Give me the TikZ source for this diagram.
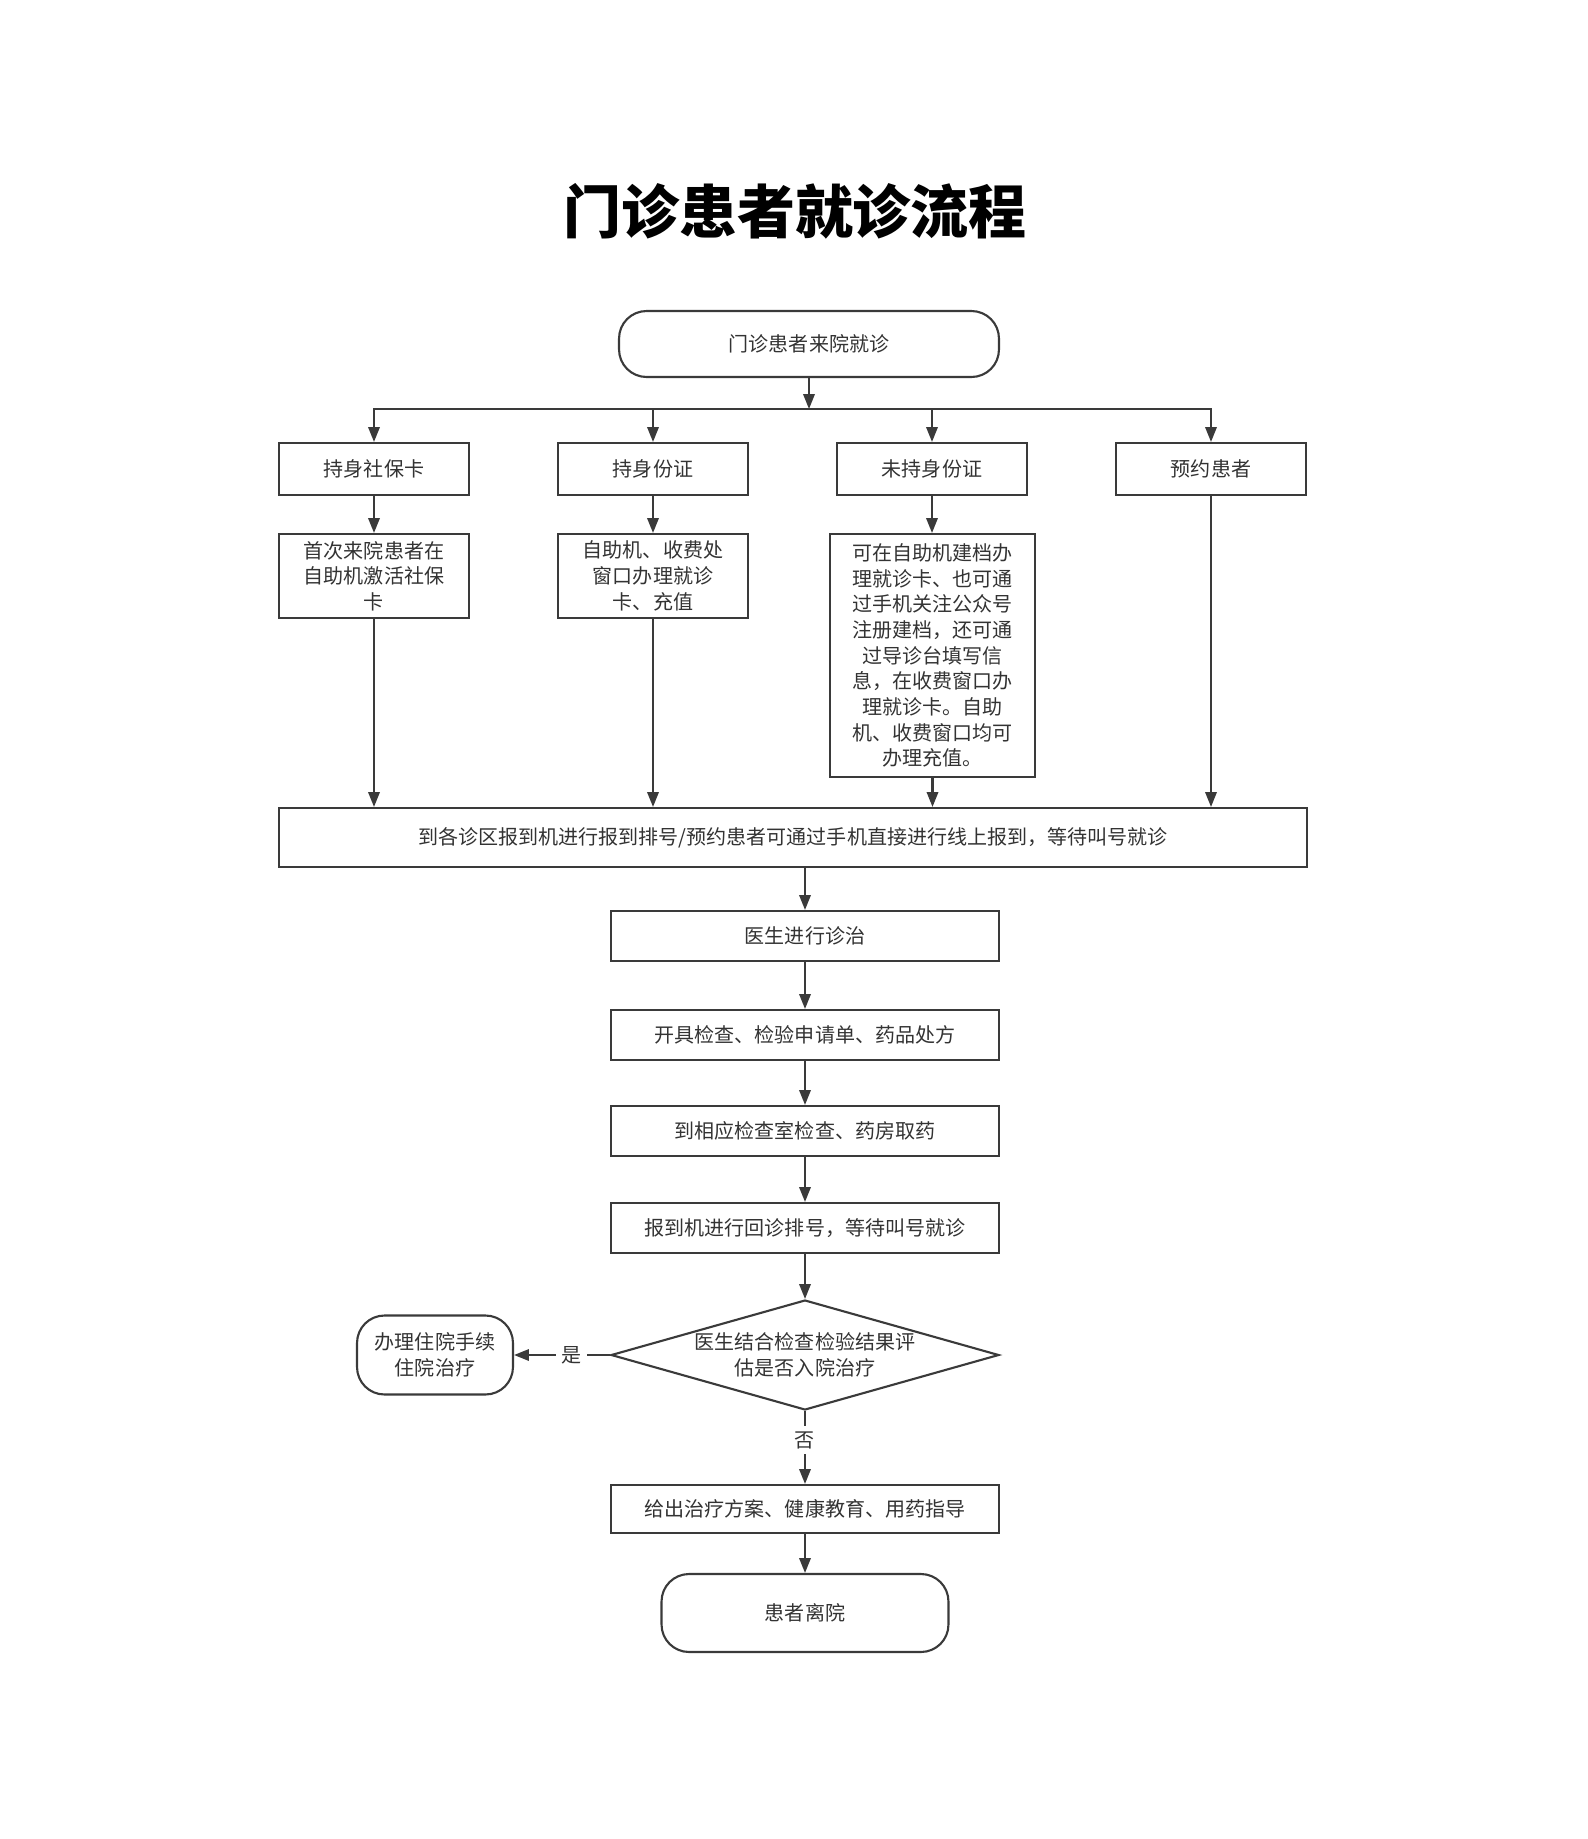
\documentclass[tikz,border=0pt]{standalone}
\usepackage{fontspec}
\setmainfont{Noto Sans CJK SC}
\usepackage{tikz}
\usetikzlibrary{arrows.meta,shapes.geometric}
\definecolor{flowline}{RGB}{58,58,58}
\definecolor{flowtext}{RGB}{51,51,51}

\begin{document}
\begin{tikzpicture}[x=0.02cm,y=-0.02cm,
  every node/.style={font=\fontsize{11.4}{14.6}\selectfont,text=flowtext},
  box/.style={draw=flowline,line width=1.2pt,fill=white,align=center,inner sep=0pt},
  term/.style={box,rounded corners=0.55cm},
  arr/.style={draw=flowline,line width=1.2pt,-{Triangle[length=8.5pt,width=6.5pt]}},
  lbl/.style={fill=white,inner sep=3pt}]
\useasboundingbox (0,0) rectangle (1587,1839);
% Title
\node (title) at (795,211) {\fontsize{33}{36}\selectfont\bfseries\color{black}门诊患者就诊流程};
% Start
\node[term,minimum width=7.6cm,minimum height=1.32cm] (start) at (809,344) {门诊患者来院就诊};
% Four kinds of patients
\node[box,minimum width=3.8cm,minimum height=1.04cm] (b1) at (374,469) {持身社保卡};
\node[box,minimum width=3.8cm,minimum height=1.04cm] (b2) at (653,469) {持身份证};
\node[box,minimum width=3.8cm,minimum height=1.04cm] (b3) at (932,469) {未持身份证};
\node[box,minimum width=3.8cm,minimum height=1.04cm] (b4) at (1211,469) {预约患者};
% Card handling
\node[box,minimum width=3.8cm,minimum height=1.68cm] (c1) at (374,576) {首次来院患者在\\自助机激活社保\\卡};
\node[box,minimum width=3.8cm,minimum height=1.68cm] (c2) at (653,576) {自助机、收费处\\窗口办理就诊\\卡、充值};
\node[box,minimum width=4.1cm,minimum height=4.86cm] (c3) at (932.5,655.5) {可在自助机建档办\\理就诊卡、也可通\\过手机关注公众号\\注册建档，还可通\\过导诊台填写信\\息，在收费窗口办\\理就诊卡。自助\\机、收费窗口均可\\办理充值。};
% Check in
\node[box,minimum width=20.56cm,minimum height=1.18cm] (wide) at (793,837.5) {到各诊区报到机进行报到排号/预约患者可通过手机直接进行线上报到，等待叫号就诊};
% Main chain
\node[box,minimum width=7.76cm,minimum height=1.0cm] (doc) at (805,936) {医生进行诊治};
\node[box,minimum width=7.76cm,minimum height=1.0cm] (order) at (805,1035) {开具检查、检验申请单、药品处方};
\node[box,minimum width=7.76cm,minimum height=1.0cm] (exam) at (805,1131) {到相应检查室检查、药房取药};
\node[box,minimum width=7.76cm,minimum height=1.0cm] (revisit) at (805,1228) {报到机进行回诊排号，等待叫号就诊};
\node[box,shape=diamond,aspect=3.5,text width=4.6cm,minimum width=7.76cm,minimum height=2.2cm] (decide) at (805,1355) {医生结合检查检验结果评\\估是否入院治疗};
\node[term,minimum width=3.12cm,minimum height=1.58cm] (hosp) at (435,1355) {办理住院手续\\住院治疗};
\node[box,minimum width=7.76cm,minimum height=0.96cm] (final) at (805,1509) {给出治疗方案、健康教育、用药指导};
\node[term,minimum width=5.74cm,minimum height=1.56cm] (leave) at (805,1613) {患者离院};
% Connectors
\coordinate (split) at (809,409);
\draw[arr] (start) -- (split);
\draw[draw=flowline,line width=1.2pt] (b1.north |- split) -- (b4.north |- split);
\foreach \b in {b1,b2,b3,b4}
  \draw[arr] (split) -| (\b.north);
\draw[arr] (b1) -- (c1);
\draw[arr] (b2) -- (c2);
\draw[arr] (b3.south) -- (b3.south |- c3.north);
\draw[arr] (c1) -- (c1 |- wide.north);
\draw[arr] (c2) -- (c2 |- wide.north);
\draw[arr] (c3.south) -- (c3.south |- wide.north);
\draw[arr] (b4) -- (b4 |- wide.north);
\draw[arr] (wide.south -| doc.north) -- (doc);
\draw[arr] (doc) -- (order);
\draw[arr] (order) -- (exam);
\draw[arr] (exam) -- (revisit);
\draw[arr] (revisit) -- (decide);
\draw[arr] (decide) -- node[lbl,pos=0.4] {是} (hosp);
\draw[arr] (decide) -- node[lbl,pos=0.4] {否} (final);
\draw[arr] (final) -- (leave);
\end{tikzpicture}
\end{document}
